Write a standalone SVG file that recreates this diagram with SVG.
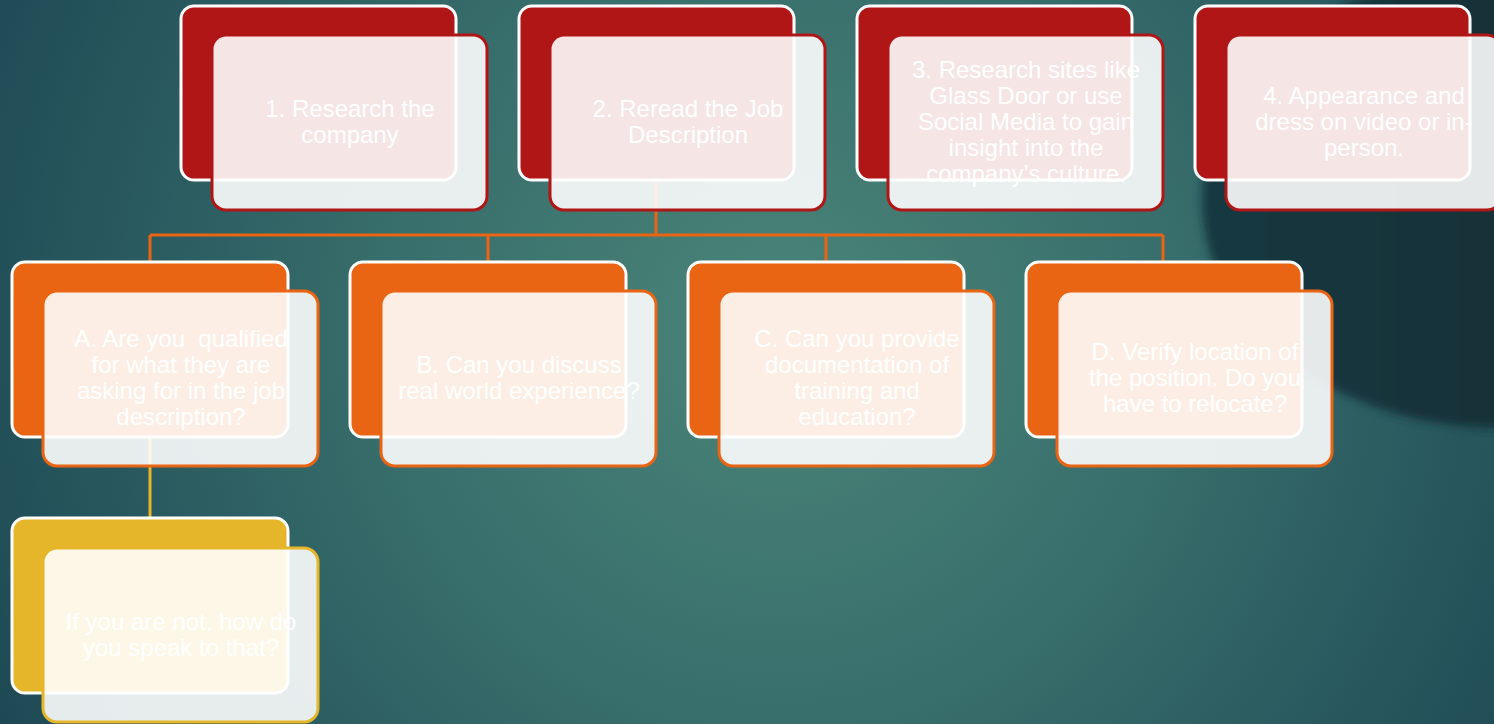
<svg xmlns="http://www.w3.org/2000/svg" width="1494" height="724" viewBox="0 0 1494 724">
  <defs>
    <radialGradient id="bg" cx="780" cy="330" r="900" gradientUnits="userSpaceOnUse">
      <stop offset="0" stop-color="#4b8579"/>
      <stop offset="0.45" stop-color="#376d6b"/>
      <stop offset="1" stop-color="#1c4753"/>
    </radialGradient>
    <linearGradient id="dark" x1="0" y1="0" x2="1" y2="0">
      <stop offset="0" stop-color="#183840"/>
      <stop offset="1" stop-color="#122a31"/>
    </linearGradient>
    <filter id="soft" x="-20%" y="-20%" width="140%" height="140%">
      <feGaussianBlur stdDeviation="5"/>
    </filter>
  </defs>
  <style>
    .back { stroke: #ffffff; stroke-width: 3; }
    .front { fill: #ffffff; fill-opacity: 0.89; stroke-width: 3; }
    .red .back { fill: #b01616; }
    .red .front { stroke: #b01616; }
    .orange .back { fill: #e96514; }
    .orange .front { stroke: #e96514; }
    .yellow .back { fill: #e6b62a; }
    .yellow .front { stroke: #e6b62a; }
    text { font-family: "Liberation Sans", Arial, sans-serif; font-size: 24px; fill: #ffffff; text-anchor: middle; white-space: pre; }
    .conn { fill: none; stroke-width: 3; }
  </style>

  <rect x="0" y="0" width="1494" height="724" fill="url(#bg)"/>
  <ellipse cx="1500" cy="200" rx="298" ry="228" fill="url(#dark)" filter="url(#soft)"/>

  <g id="connectors">
    <path class="conn" stroke="#e96514" d="M656 181 V235 M150 235 H1163 M150 235 V262 M488 235 V262 M826 235 V262 M1163 235 V262"/>
    <path class="conn" stroke="#e6b62a" d="M150 437 V518"/>
  </g>

  <g id="node1" class="red">
    <rect class="back" x="181" y="6" width="275" height="174" rx="13"/>
    <rect class="front" x="212" y="35" width="275" height="175" rx="14"/>
    <text x="350" y="117">1. Research the</text>
    <text x="350" y="143">company</text>
  </g>

  <g id="node2" class="red">
    <rect class="back" x="519" y="6" width="275" height="174" rx="13"/>
    <rect class="front" x="550" y="35" width="275" height="175" rx="14"/>
    <text x="688" y="117">2. Reread the Job</text>
    <text x="688" y="143">Description</text>
  </g>

  <g id="node3" class="red">
    <rect class="back" x="857" y="6" width="275" height="174" rx="13"/>
    <rect class="front" x="888" y="35" width="275" height="175" rx="14"/>
    <text x="1026" y="78">3. Research sites like</text>
    <text x="1026" y="104">Glass Door or use</text>
    <text x="1026" y="130">Social Media to gain</text>
    <text x="1026" y="156">insight into the</text>
    <text x="1026" y="182">company’s culture.</text>
  </g>

  <g id="node4" class="red">
    <rect class="back" x="1195" y="6" width="275" height="174" rx="13"/>
    <rect class="front" x="1226" y="35" width="275" height="175" rx="14"/>
    <text x="1364" y="104">4. Appearance and</text>
    <text x="1364" y="130">dress on video or in-</text>
    <text x="1364" y="156">person.</text>
  </g>

  <g id="nodeA" class="orange">
    <rect class="back" x="12" y="262" width="276" height="175" rx="13"/>
    <rect class="front" x="43" y="291" width="275" height="175" rx="14"/>
    <text x="181" y="347">A. Are you  qualified</text>
    <text x="181" y="373">for what they are</text>
    <text x="181" y="399">asking for in the job</text>
    <text x="181" y="425">description?</text>
  </g>

  <g id="nodeB" class="orange">
    <rect class="back" x="350" y="262" width="276" height="175" rx="13"/>
    <rect class="front" x="381" y="291" width="275" height="175" rx="14"/>
    <text x="519" y="373">B. Can you discuss</text>
    <text x="519" y="399">real world experience?</text>
  </g>

  <g id="nodeC" class="orange">
    <rect class="back" x="688" y="262" width="276" height="175" rx="13"/>
    <rect class="front" x="719" y="291" width="275" height="175" rx="14"/>
    <text x="857" y="347">C. Can you provide</text>
    <text x="857" y="373">documentation of</text>
    <text x="857" y="399">training and</text>
    <text x="857" y="425">education?</text>
  </g>

  <g id="nodeD" class="orange">
    <rect class="back" x="1026" y="262" width="276" height="175" rx="13"/>
    <rect class="front" x="1057" y="291" width="275" height="175" rx="14"/>
    <text x="1195" y="360">D. Verify location of</text>
    <text x="1195" y="386">the position. Do you</text>
    <text x="1195" y="412">have to relocate?</text>
  </g>

  <g id="nodeE" class="yellow">
    <rect class="back" x="12" y="518" width="276" height="175" rx="13"/>
    <rect class="front" x="43" y="548" width="275" height="174" rx="14"/>
    <text x="181" y="630">If you are not, how do</text>
    <text x="181" y="656">you speak to that?</text>
  </g>
</svg>
